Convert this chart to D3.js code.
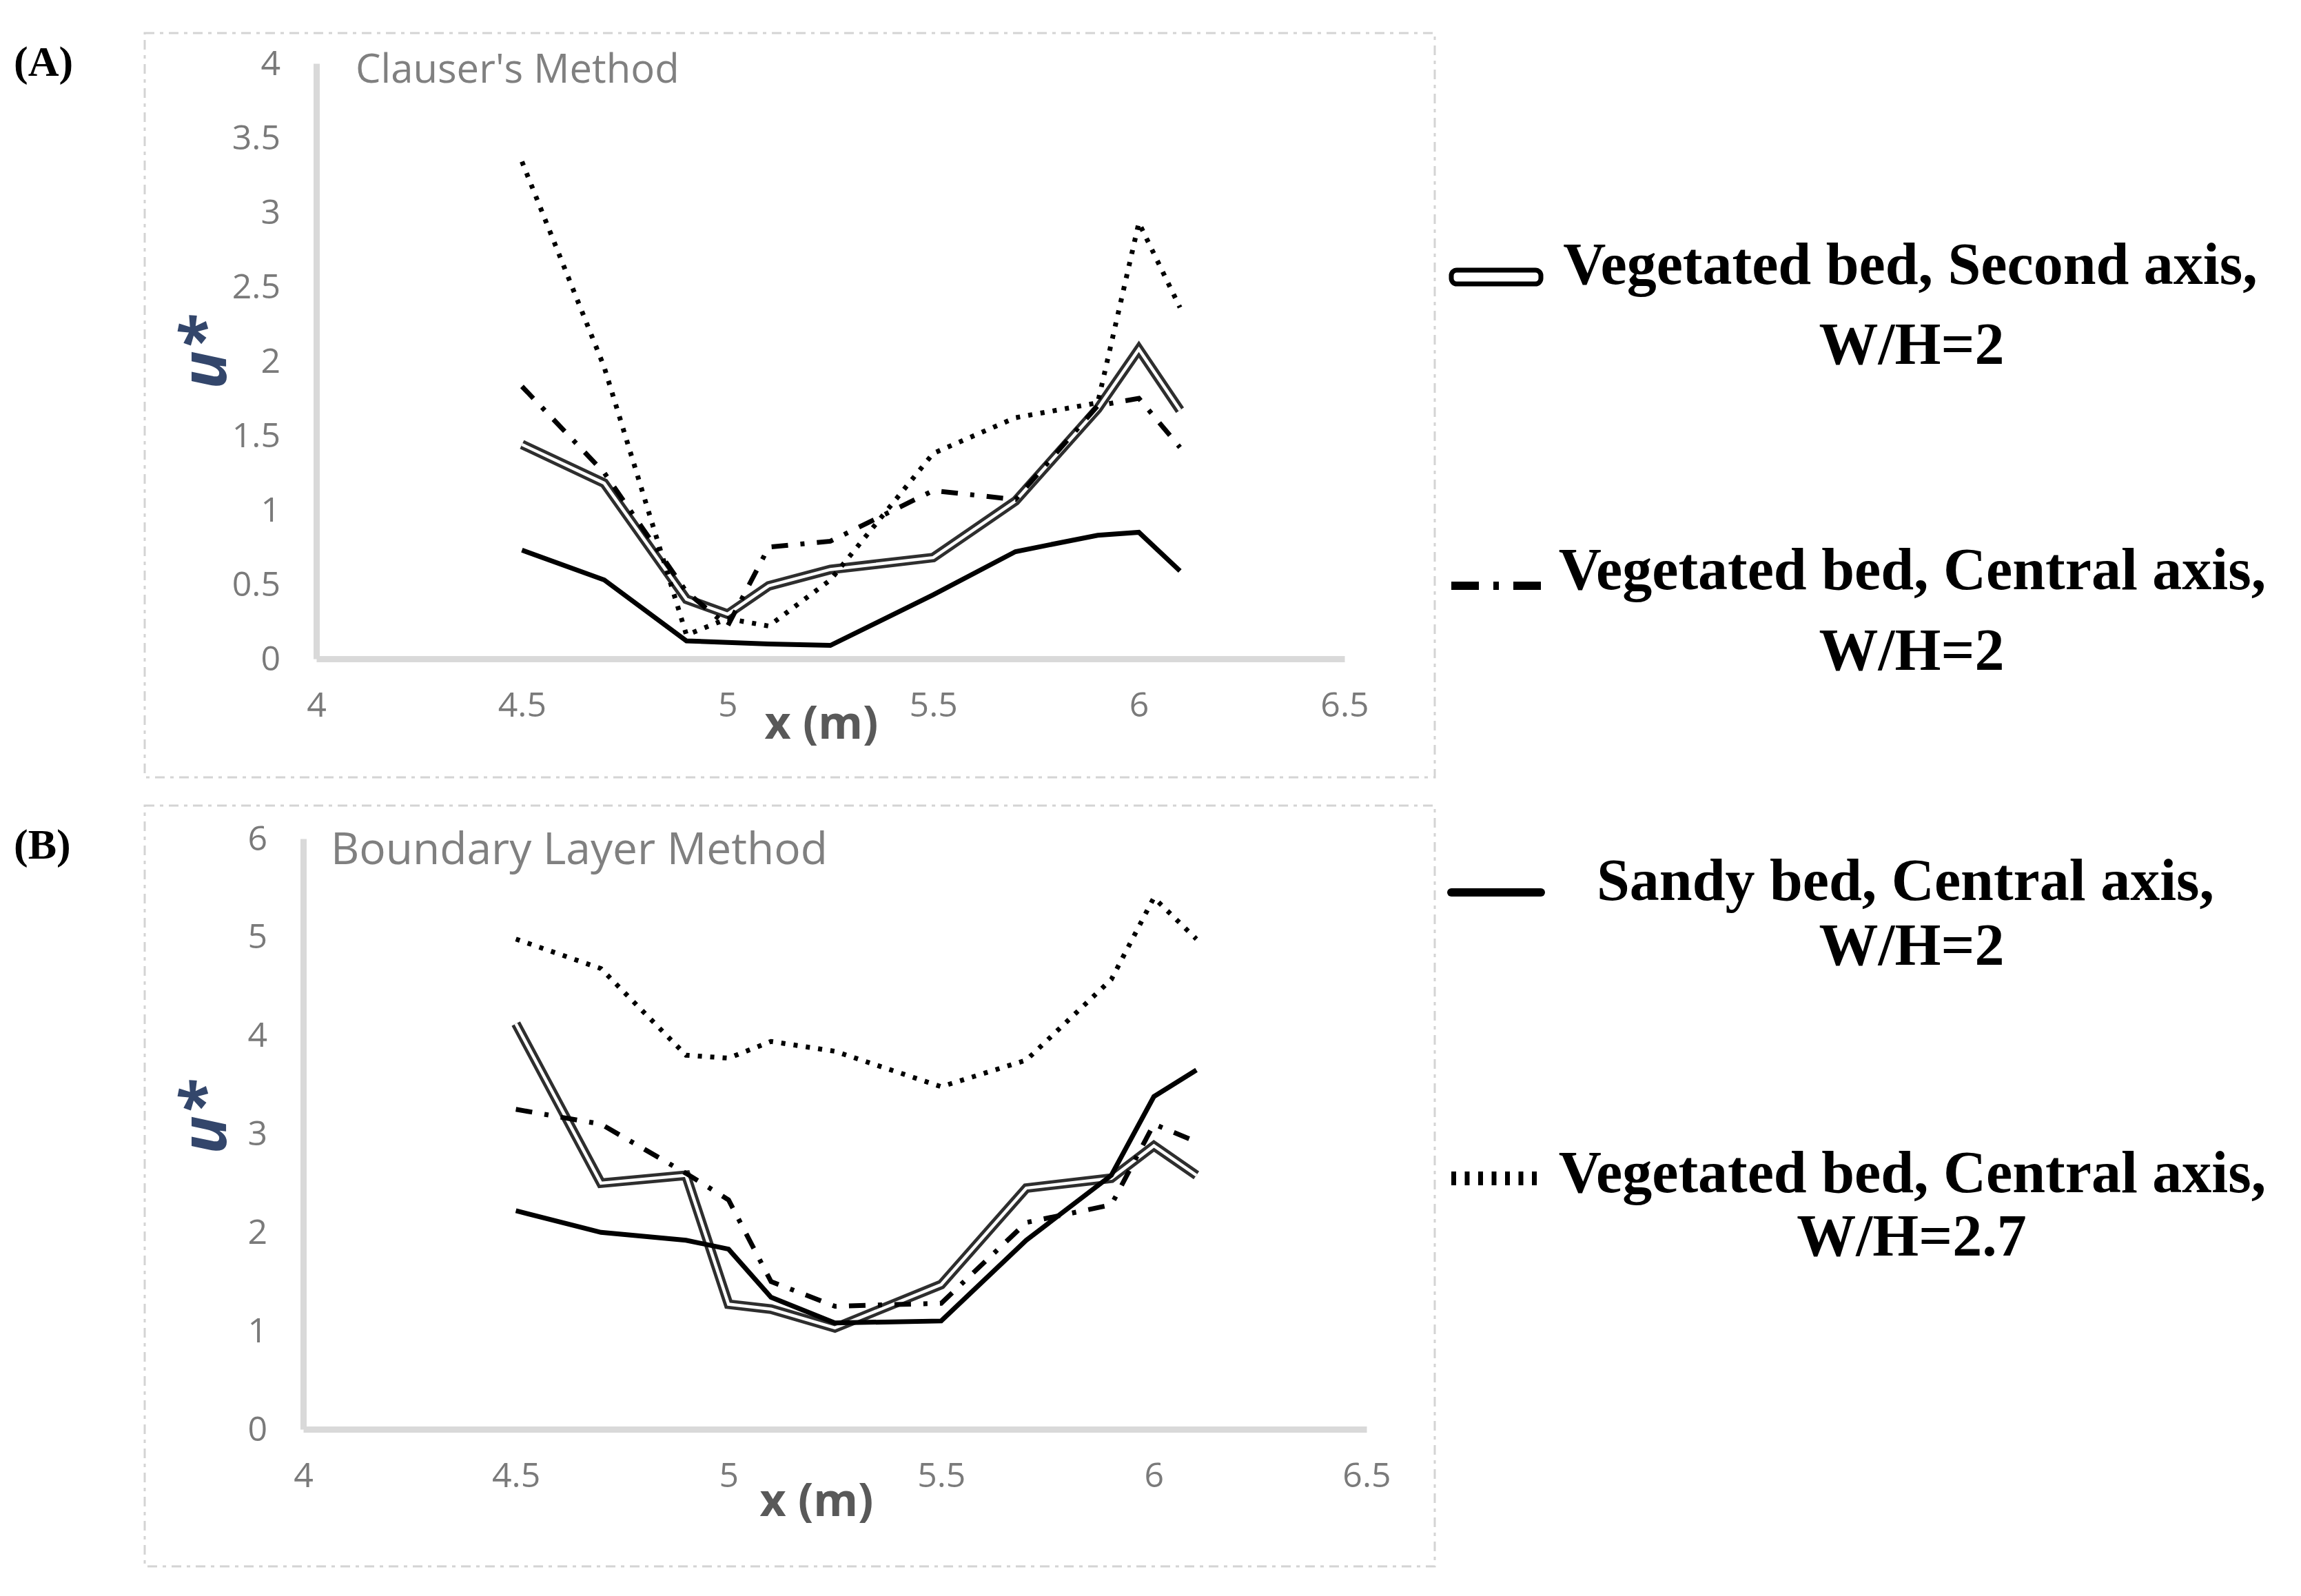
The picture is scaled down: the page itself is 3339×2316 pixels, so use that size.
<!DOCTYPE html>
<html>
<head>
<meta charset="utf-8">
<script src="https://cdn.jsdelivr.net/npm/d3@7"></script>
<style>
  body { margin: 0; background: #fff; }
  svg { display: block; }
</style>
</head>
<body>
<svg id="chart" width="3339" height="2316"></svg>
<script>
// x positions of the measuring stations (m)
const stations = [4.5, 4.7, 4.9, 5.0, 5.1, 5.25, 5.5, 5.7, 5.9, 6.0, 6.1]

// (A) Clauser's method
const clauserSecond  = [1.44, 1.18, 0.40, 0.30, 0.49, 0.60, 0.68, 1.06, 1.68, 2.08, 1.67]
const clauserCentral = [1.83, 1.25, 0.45, 0.22, 0.75, 0.79, 1.13, 1.07, 1.70, 1.75, 1.42]
const clauserSandy   = [0.73, 0.53, 0.12, 0.11, 0.10, 0.09, 0.43, 0.72, 0.83, 0.85, 0.59]
const clauserWide    = [3.34, 1.96, 0.16, 0.27, 0.22, 0.53, 1.38, 1.62, 1.72, 2.93, 2.36]

// (B) boundary layer method
const boundarySecond  = [4.12, 2.50, 2.58, 1.27, 1.22, 1.03, 1.47, 2.45, 2.55, 2.88, 2.58]
const boundaryCentral = [3.25, 3.10, 2.60, 2.33, 1.50, 1.25, 1.28, 2.10, 2.28, 3.10, 2.92]
const boundarySandy   = [2.22, 2.00, 1.92, 1.83, 1.34, 1.08, 1.10, 1.92, 2.58, 3.38, 3.65]
const boundaryWide    = [4.98, 4.68, 3.80, 3.77, 3.94, 3.84, 3.48, 3.75, 4.57, 5.40, 4.98]

const xTicks = [4, 4.5, 5, 5.5, 6, 6.5]
const yTicksA = [0, 0.5, 1, 1.5, 2, 2.5, 3, 3.5, 4]
const yTicksB = [0, 1, 2, 3, 4, 5, 6]

const legendLabels = [
  ["Vegetated bed, Second axis,", "W/H=2"],
  ["Vegetated bed, Central axis,", "W/H=2"],
  ["Sandy bed, Central axis,", "W/H=2"],
  ["Vegetated bed, Central axis,", "W/H=2.7"]
]

const svg = d3.select("#chart")
svg.append("rect").attr("width", 3339).attr("height", 2316).attr("fill", "#fff")

const tickFont = "'Open Sans', sans-serif"

function drawPanel(opt) {
  // dashed frame around the chart
  svg.append("rect")
    .attr("x", opt.frame[0]).attr("y", opt.frame[1])
    .attr("width", opt.frame[2]).attr("height", opt.frame[3])
    .attr("fill", "none")
    .attr("stroke", "#d4d4d4")
    .attr("stroke-width", 3)
    .attr("stroke-dasharray", "14 8 5 8")

  const x = d3.scaleLinear().domain([4, 6.5]).range(opt.xRange)
  const y = d3.scaleLinear().domain([0, opt.yMax]).range(opt.yRange)

  const gx = svg.append("g")
    .attr("transform", "translate(0," + opt.yRange[0] + ")")
    .call(d3.axisBottom(x).tickValues(xTicks).tickSize(0).tickPadding(48).tickFormat(d3.format("")))
  const gy = svg.append("g")
    .attr("transform", "translate(" + opt.xRange[0] + ",0)")
    .call(d3.axisLeft(y).tickValues(opt.yTicks).tickSize(0).tickPadding(52).tickFormat(d3.format("")))

  ;[gx, gy].forEach(function(g) {
    g.select(".domain").attr("stroke", "#d9d9d9").attr("stroke-width", 9)
    g.selectAll("text")
      .attr("font-family", tickFont)
      .attr("font-size", 50)
      .attr("fill", "#7a7a7a")
  })

  // chart title
  svg.append("text")
    .attr("x", opt.titlePos[0]).attr("y", opt.titlePos[1])
    .attr("font-family", tickFont).attr("font-size", opt.titleSize)
    .attr("fill", "#808080")
    .text(opt.title)

  // axis titles
  svg.append("text")
    .attr("x", opt.xLabelPos[0]).attr("y", opt.xLabelPos[1])
    .attr("text-anchor", "middle")
    .attr("font-family", tickFont).attr("font-size", 66).attr("font-weight", "bold")
    .attr("fill", "#595959")
    .text("x (m)")
  svg.append("text")
    .attr("transform", "translate(" + opt.yLabelPos[0] + "," + opt.yLabelPos[1] + ") rotate(-90)")
    .attr("text-anchor", "middle")
    .attr("font-family", tickFont).attr("font-size", 92)
    .attr("font-weight", "bold").attr("font-style", "italic")
    .attr("fill", "#33466b")
    .text("u*")

  // panel letter
  svg.append("text")
    .attr("x", 20).attr("y", opt.letterY)
    .attr("font-family", "'Liberation Serif', serif").attr("font-size", 62)
    .attr("font-weight", "bold")
    .text(opt.letter)

  const line = d3.line()
    .x(function(d) { return x(d[0]) })
    .y(function(d) { return y(d[1]) })

  const g = svg.append("g").attr("fill", "none").attr("stroke-linejoin", "miter")

  // double line: dark stroke with white core
  g.append("path").datum(d3.zip(stations, opt.second))
    .attr("d", line).attr("stroke", "#2e2e2e").attr("stroke-width", 14)
  g.append("path").datum(d3.zip(stations, opt.second))
    .attr("d", line).attr("stroke", "#fff").attr("stroke-width", 4.5)

  g.append("path").datum(d3.zip(stations, opt.sandy))
    .attr("d", line).attr("stroke", "#000").attr("stroke-width", 7)

  g.append("path").datum(d3.zip(stations, opt.central))
    .attr("d", line).attr("stroke", "#000").attr("stroke-width", 7)
    .attr("stroke-dasharray", "24 18 6 18")

  g.append("path").datum(d3.zip(stations, opt.wide))
    .attr("d", line).attr("stroke", "#000").attr("stroke-width", 7)
    .attr("stroke-dasharray", "6 12")
}

drawPanel({
  frame: [210, 48, 1872, 1080],
  xRange: [459, 1951],
  yRange: [956, 92],
  yMax: 4,
  yTicks: yTicksA,
  title: "Clauser's Method",
  titleSize: 58,
  titlePos: [516, 120],
  xLabelPos: [1192, 1072],
  yLabelPos: [328, 512],
  letter: "(A)",
  letterY: 110,
  second: clauserSecond,
  central: clauserCentral,
  sandy: clauserSandy,
  wide: clauserWide
})

drawPanel({
  frame: [210, 1169, 1872, 1104],
  xRange: [440, 1983],
  yRange: [2074, 1217],
  yMax: 6,
  yTicks: yTicksB,
  title: "Boundary Layer Method",
  titleSize: 64,
  titlePos: [480, 1254],
  xLabelPos: [1185, 2200],
  yLabelPos: [328, 1622],
  letter: "(B)",
  letterY: 1246,
  second: boundarySecond,
  central: boundaryCentral,
  sandy: boundarySandy,
  wide: boundaryWide
})

// legend
const legendRows = [
  { y1: 412, y2: 528, cx1: 2772, sy: 402 },
  { y1: 855, y2: 972, cx1: 2775, sy: 850 },
  { y1: 1306, y2: 1400, cx1: 2765, sy: 1295 },
  { y1: 1730, y2: 1822, cx1: 2775, sy: 1710 }
]
const lx0 = 2106, lx1 = 2236

const leg = svg.append("g")
  .attr("font-family", "'Liberation Serif', serif")
  .attr("font-size", 86).attr("font-weight", "bold")
  .attr("text-anchor", "middle")

legendRows.forEach(function(r, i) {
  leg.append("text").attr("x", r.cx1).attr("y", r.y1).text(legendLabels[i][0])
  leg.append("text").attr("x", 2774).attr("y", r.y2).text(legendLabels[i][1])
})

// legend symbols
svg.append("rect")
  .attr("x", lx0).attr("y", legendRows[0].sy - 10)
  .attr("width", lx1 - lx0).attr("height", 20).attr("rx", 8)
  .attr("fill", "#fff").attr("stroke", "#000").attr("stroke-width", 7)

svg.append("line")
  .attr("x1", lx0).attr("x2", lx1).attr("y1", legendRows[1].sy).attr("y2", legendRows[1].sy)
  .attr("stroke", "#000").attr("stroke-width", 12)
  .attr("stroke-dasharray", "40 21 8 21 40")

svg.append("line")
  .attr("x1", lx0).attr("x2", lx1).attr("y1", legendRows[2].sy).attr("y2", legendRows[2].sy)
  .attr("stroke", "#000").attr("stroke-width", 12).attr("stroke-linecap", "round")

svg.append("line")
  .attr("x1", lx0).attr("x2", lx1).attr("y1", legendRows[3].sy).attr("y2", legendRows[3].sy)
  .attr("stroke", "#000").attr("stroke-width", 20)
  .attr("stroke-dasharray", "7 12.5")
</script>
</body>
</html>
